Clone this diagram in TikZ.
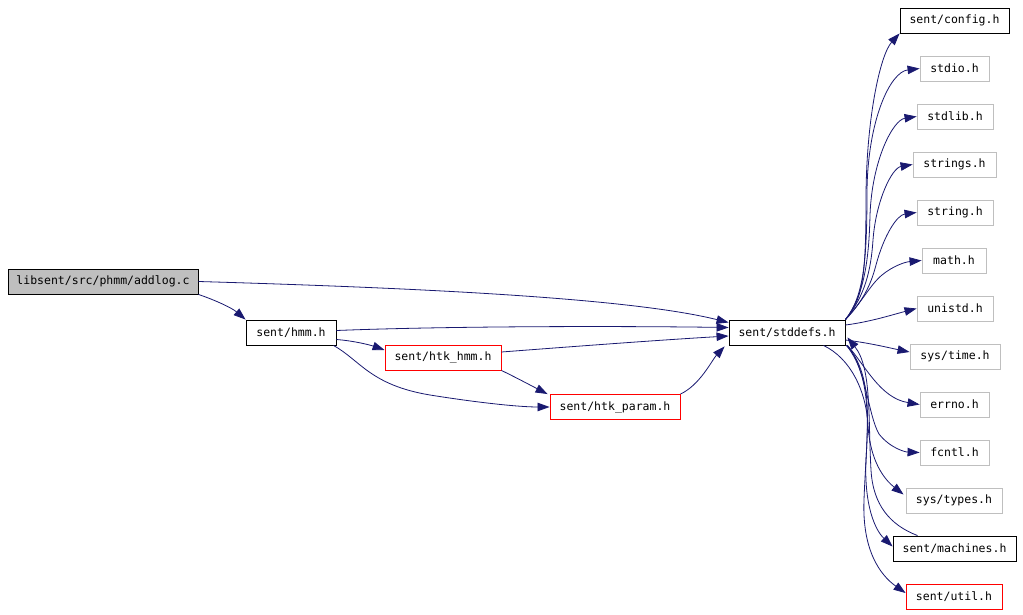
\documentclass[tikz,border=0pt]{standalone}
\usepackage{fontspec}
\setmonofont{DejaVu Sans Mono}
\usetikzlibrary{arrows.meta}
\definecolor{edgeblue}{HTML}{191970}
\definecolor{graybox}{HTML}{BFBFBF}
\tikzset{
  box/.style={draw=black, line width=0.9pt, inner sep=0pt, minimum height=25pt, font=\ttfamily\fontsize{11.5}{13}\selectfont},
  greybox/.style={box, draw=graybox},
  redbox/.style={box, draw=red},
  edge/.style={draw=edgeblue, line width=0.8pt, -{Triangle[length=12pt,width=8.5pt]}, color=edgeblue}
}
\begin{document}
\begin{tikzpicture}[x=1pt,y=-1pt]
\useasboundingbox (0,0) rectangle (1023,615);
% nodes
\node[box, fill=graybox, minimum width=190pt] (addlog) at (103,281.5) {libsent/src/phmm/addlog.c};
\node[box, minimum width=90pt] (hmm) at (291,332.5) {sent/hmm.h};
\node[redbox, minimum width=116pt] (htkhmm) at (443,357.5) {sent/htk\_hmm.h};
\node[redbox, minimum width=130pt] (htkparam) at (615,407) {sent/htk\_param.h};
\node[box, minimum width=116pt] (stddefs) at (787,332.5) {sent/stddefs.h};
\node[box, minimum width=109pt] (config) at (954.5,20.5) {sent/config.h};
\node[greybox, minimum width=69pt] (stdio) at (954.5,68.5) {stdio.h};
\node[greybox, minimum width=76pt] (stdlib) at (955,116.5) {stdlib.h};
\node[greybox, minimum width=83pt] (strings) at (954.5,164.5) {strings.h};
\node[greybox, minimum width=76pt] (string) at (955,212.5) {string.h};
\node[greybox, minimum width=64pt] (math) at (954,260.5) {math.h};
\node[greybox, minimum width=76pt] (unistd) at (955,308.5) {unistd.h};
\node[greybox, minimum width=90pt] (systime) at (955,356.5) {sys/time.h};
\node[greybox, minimum width=69pt] (errno) at (954.5,404.5) {errno.h};
\node[greybox, minimum width=69pt] (fcntl) at (954.5,452.5) {fcntl.h};
\node[greybox, minimum width=96pt] (systypes) at (954,500.5) {sys/types.h};
\node[box, minimum width=123pt] (machines) at (954.5,548.5) {sent/machines.h};
\node[redbox, minimum width=96pt] (util) at (954,596.5) {sent/util.h};
% left edges
\draw[edge] (addlog.east) .. controls (420,288) and (630,298) .. ([yshift=10pt]stddefs.west);
\draw[edge] (addlog.south east) .. controls (215,300) and (232,308) .. (hmm.north west);
\draw[edge] ([yshift=2pt]hmm.east) .. controls (450,326) and (620,326) .. ([yshift=5pt]stddefs.west);
\draw[edge] ([yshift=-7pt]hmm.east) .. controls (355,341) and (370,345) .. ([yshift=7.5pt]htkhmm.west);
\draw[edge] ([xshift=-3pt]hmm.south east) .. controls (360,360) and (370,385) .. (430,395) .. controls (480,403) and (520,407) .. (htkparam.west);
\draw[edge] ([yshift=5.5pt]htkhmm.east) .. controls (580,346) and (660,340) .. ([yshift=-3.5pt]stddefs.west);
\draw[edge] (htkhmm.south east) .. controls (515,377) and (530,385) .. ([xshift=-2pt]htkparam.north west);
\draw[edge] (htkparam.north east) .. controls (700,385) and (712,360) .. ([xshift=-4pt,yshift=-1pt]stddefs.south west);
% right fan
\draw[edge] (stddefs.north east) .. controls (862,300) and (866,280) .. (866,200) .. controls (866,120) and (880,55) .. (config.south west);
\draw[edge] (stddefs.north east) .. controls (864,296) and (867,260) .. (867,190) .. controls (868,120) and (890,72) .. (stdio.west);
\draw[edge] (stddefs.north east) .. controls (864,296) and (869,260) .. (870,215) .. controls (872,160) and (893,120) .. (stdlib.west);
\draw[edge] (stddefs.north east) .. controls (865,296) and (871,270) .. (873,240) .. controls (876,200) and (892,168) .. (strings.west);
\draw[edge] (stddefs.north east) .. controls (866,298) and (872,280) .. (876,265) .. controls (884,235) and (897,215) .. (string.west);
\draw[edge] (stddefs.north east) .. controls (862,302) and (870,285) .. (882,275) .. controls (893,266) and (905,262) .. (math.west);
\draw[edge] ([yshift=7.5pt]stddefs.east) .. controls (870,322) and (895,314) .. (unistd.west);
\draw[edge] ([yshift=-7.5pt]stddefs.east) .. controls (870,343) and (890,348) .. ([yshift=4.5pt]systime.west);
\draw[edge] ([xshift=2pt]stddefs.south east) .. controls (865,365) and (880,398) .. (errno.west);
\draw[edge] ([xshift=2pt]stddefs.south east) .. controls (866,368) and (868,415) .. (879,434) .. controls (890,448) and (905,452) .. (fcntl.west);
\draw[edge] ([xshift=-22pt]stddefs.south east) .. controls (850,358) and (866,390) .. (868,425) .. controls (870,462) and (885,480) .. ([xshift=-2pt,yshift=6pt]systypes.west);
\draw[edge] ([xshift=1pt]stddefs.south east) .. controls (872,372) and (868,420) .. (866,460) .. controls (864,505) and (875,530) .. ([yshift=2pt]machines.west);
\draw[edge] ([xshift=1pt]stddefs.south east) .. controls (876,382) and (866,440) .. (864,500) .. controls (862,550) and (880,575) .. ([yshift=3.5pt]util.west);
\draw[edge] ([xshift=-37pt]machines.north) .. controls (890,525) and (873,505) .. (871,470) .. controls (868,420) and (872,368) .. ([xshift=2pt,yshift=-5pt]stddefs.east);
\end{tikzpicture}
\end{document}
